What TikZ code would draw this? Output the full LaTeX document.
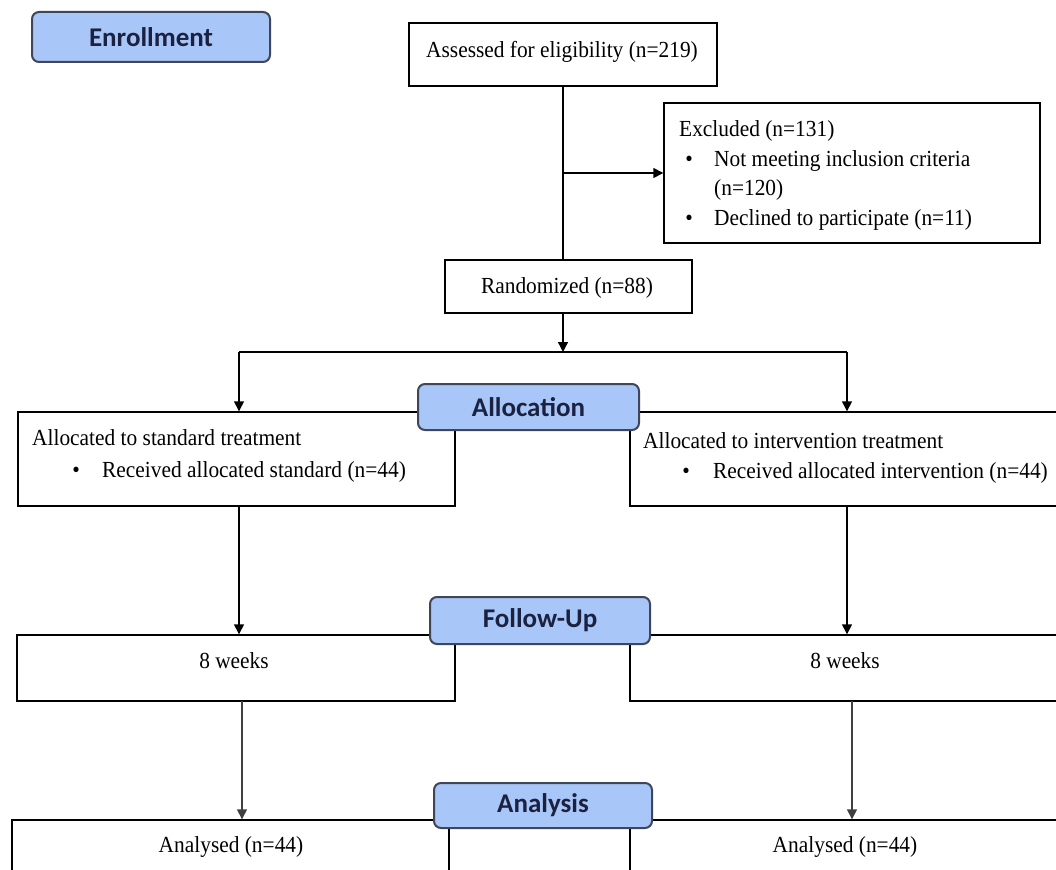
\documentclass[tikz,border=0pt]{standalone}
\usepackage{fontspec}
\setmainfont{Liberation Serif}
\newfontfamily\timesfont[FakeStretch=0.93]{Liberation Serif}
\newfontfamily\calibrifont{Carlito}
\usetikzlibrary{arrows.meta}
\definecolor{bluefill}{HTML}{A9C6F8}
\definecolor{blueline}{HTML}{3E4658}
\definecolor{bluetext}{HTML}{1B2140}
\begin{document}
\begin{tikzpicture}[x=1pt,y=-1pt,
  box/.style={draw=black,line width=1.4pt,fill=white,inner sep=0pt,minimum width=#1},
  stage/.style={draw=blueline,line width=2pt,fill=bluefill,rounded corners=7pt,inner sep=0pt,
     font=\calibrifont\bfseries\fontsize{27}{32}\selectfont,text=bluetext},
  txt/.style={inner sep=0pt,font=\timesfont\fontsize{23}{27}\selectfont},
  conn/.style={draw=black,line width=1.4pt},
  arr/.style={conn,-{Triangle[width=10pt,length=10pt]}},
  arrg/.style={draw=black!75,line width=1.4pt,-{Triangle[width=10pt,length=10pt]}}]
\useasboundingbox (0,0) rectangle (1056,869);
\clip (0,0) rectangle (1056,869);
\fill[white] (0,0) rectangle (1056,869);

% boxes
\node[box=308pt,minimum height=63pt] (assessed) at (563,54.5) {};
\node[box=376pt,minimum height=140pt] (excluded) at (852,173) {};
\node[box=247pt,minimum height=53pt] (rand) at (568.5,286.5) {};
\node[box=437pt,minimum height=94pt] (allocL) at (236.5,459) {};
\node[box=450pt,minimum height=94pt] (allocR) at (855,459) {};
\node[box=438pt,minimum height=66pt] (followL) at (236,668) {};
\node[box=450pt,minimum height=66pt] (followR) at (855,668) {};
\node[box=437pt,minimum height=80pt] (anaL) at (230.5,860) {};
\node[box=450pt,minimum height=80pt] (anaR) at (855,860) {};

% texts
\node[txt,anchor=base] (tAssessed) at (562,58) {Assessed for eligibility (n=219)};
\node[txt,anchor=base west] (tExcl) at (679,137) {Excluded (n=131)};
\node[txt,anchor=base] (b1) at (689,167) {\textbullet};
\node[txt,anchor=base west] (tNot) at (714,167) {Not meeting inclusion criteria};
\node[txt,anchor=base west] (tN120) at (714,195) {(n=120)};
\node[txt,anchor=base] (b2) at (689,225) {\textbullet};
\node[txt,anchor=base west] (tDecl) at (714,225) {Declined to participate (n=11)};
\node[txt,anchor=base] (tRand) at (567,293) {Randomized (n=88)};
\node[txt,anchor=base west] (tAllocL) at (32,445) {Allocated to standard treatment};
\node[txt,anchor=base] (b3) at (76,477) {\textbullet};
\node[txt,anchor=base west] (tRecL) at (102,477) {Received allocated standard (n=44)};
\node[txt,anchor=base west] (tAllocR) at (643,448) {Allocated to intervention treatment};
\node[txt,anchor=base] (b4) at (686,478) {\textbullet};
\node[txt,anchor=base west] (tRecR) at (713,478) {Received allocated intervention (n=44)};
\node[txt,anchor=base] (tWeekL) at (234,668) {8 weeks};
\node[txt,anchor=base] (tWeekR) at (845,668) {8 weeks};
\node[txt,anchor=base] (tAnaL) at (231,852) {Analysed (n=44)};
\node[txt,anchor=base] (tAnaR) at (845,852) {Analysed (n=44)};

% stage labels
\node[stage,minimum width=238pt,minimum height=50pt] (enroll) at (151,37) {Enrollment};
\node[stage,minimum width=221pt,minimum height=46pt] (alloc) at (528.5,407) {Allocation};
\node[stage,minimum width=220pt,minimum height=47pt] (follow) at (540,620.5) {Follow-Up};
\node[stage,minimum width=218pt,minimum height=45pt] (analysis) at (543,805.5) {Analysis};

% connectors
\coordinate (split) at (563,352);
\coordinate (sl) at (239,352);
\coordinate (sr) at (847,352);
\coordinate (fl) at (242,701);
\coordinate (fr) at (852,701);
\draw[conn] (assessed.south) -- (assessed.south |- rand.north);
\draw[arr] (assessed.south |- excluded.west) -- (excluded.west);
\draw[arr] (rand.south -| assessed.south) -- (split);
\draw[conn] (sl) -- (sr);
\draw[arr] (sl) -- (sl |- allocL.north);
\draw[arr] (sr) -- (sr |- allocR.north);
\draw[arr] (allocL.south -| sl) -- (followL.north -| sl);
\draw[arr] (allocR.south -| sr) -- (followR.north -| sr);
\draw[arrg] (fl) -- (fl |- anaL.north);
\draw[arrg] (fr) -- (fr |- anaR.north);
\end{tikzpicture}
\end{document}
